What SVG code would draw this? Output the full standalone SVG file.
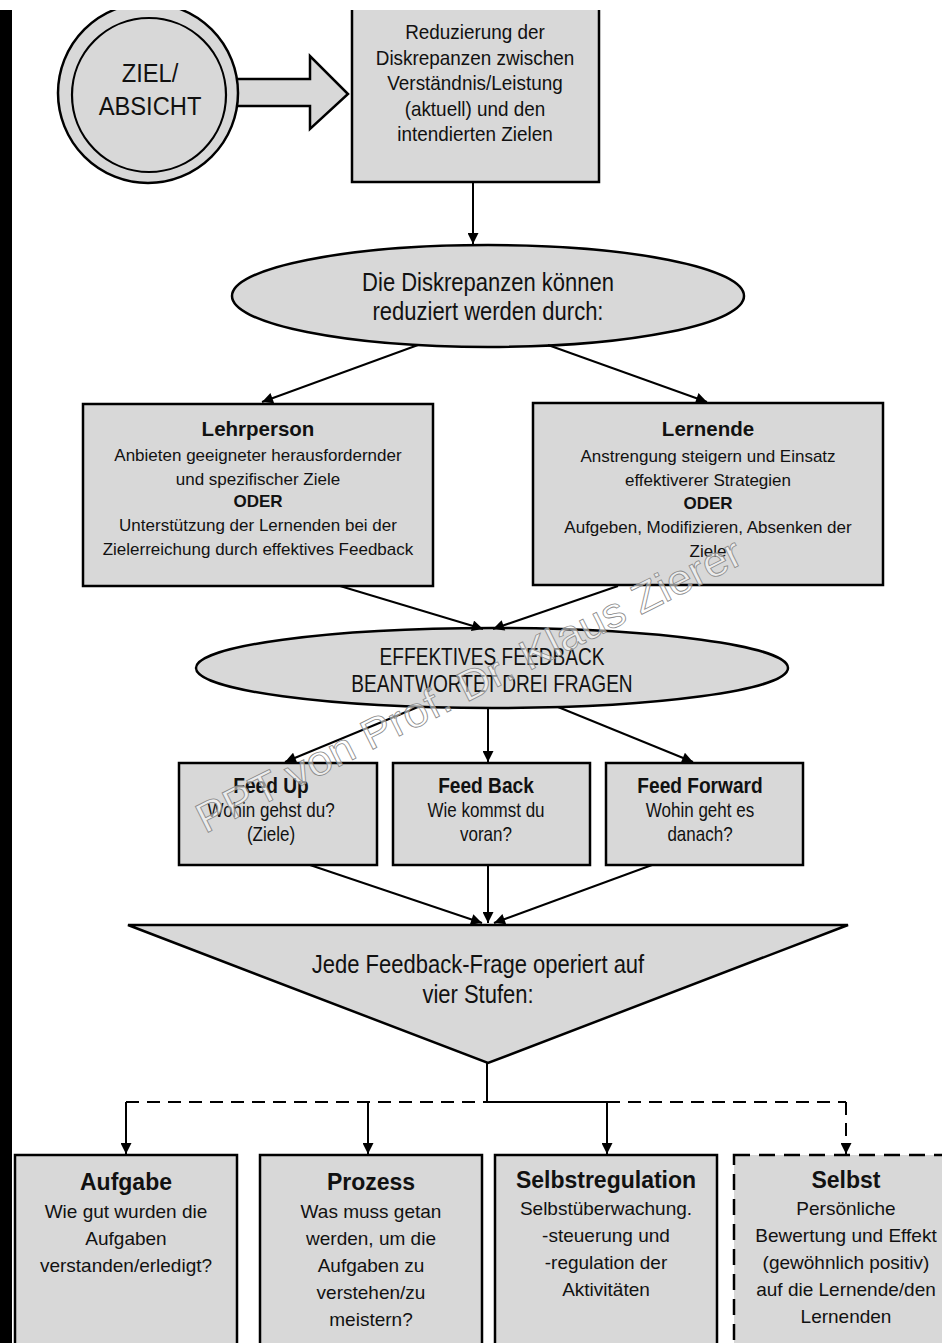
<svg xmlns="http://www.w3.org/2000/svg" width="942" height="1343" viewBox="0 0 942 1343">
<defs>
<style>
.box{fill:#d8d8d8;stroke:#000;stroke-width:2.5}
.t{font-family:"Liberation Sans",Arial,sans-serif;fill:#111;text-anchor:middle}
.b{font-weight:bold}
.ln{stroke:#000;stroke-width:2;fill:none}
.dash{stroke-dasharray:13 8}
</style>
<marker id="ah" viewBox="0 0 10 10" refX="10" refY="5" markerWidth="12" markerHeight="11" markerUnits="userSpaceOnUse" orient="auto">
<path d="M0,0 L10,5 L0,10 z" fill="#000"/>
</marker>
</defs>
<rect width="942" height="1343" fill="#fff"/>
<rect x="0" y="10" width="12" height="1333" fill="#000"/>

<g id="ziel">
<polygon class="box" points="232,79 310,79 310,56 348,94 310,129 310,106 232,106"/>
<circle cx="148" cy="93" r="90" class="box"/>
<circle cx="149" cy="95" r="77" fill="none" stroke="#000" stroke-width="2.2"/>
<text class="t" font-size="25.5" transform="translate(150 0) scale(0.93 1)"><tspan x="0" y="82">ZIEL/</tspan><tspan x="0" y="115">ABSICHT</tspan></text>
</g>

<g id="reduzierung">
<path class="box" d="M352,10 V182 H599 V10"/>
<text class="t" font-size="19.5" transform="translate(475 0) scale(0.97 1)"><tspan x="0" y="39">Reduzierung der</tspan><tspan x="0" y="65">Diskrepanzen zwischen</tspan><tspan x="0" y="90">Verständnis/Leistung</tspan><tspan x="0" y="116">(aktuell) und den</tspan><tspan x="0" y="141">intendierten Zielen</tspan></text>
</g>

<g id="diskrepanzen">
<ellipse class="box" cx="488" cy="296" rx="256" ry="51"/>
<text class="t" font-size="25" transform="translate(488 0) scale(0.88 1)"><tspan x="0" y="291">Die Diskrepanzen können</tspan><tspan x="0" y="320">reduziert werden durch:</tspan></text>
</g>

<g id="lehrperson">
<rect class="box" x="83" y="404" width="350" height="182"/>
<text class="t" font-size="17"><tspan class="b" x="258" y="436" font-size="20.5">Lehrperson</tspan><tspan x="258" y="461">Anbieten geeigneter herausfordernder</tspan><tspan x="258" y="485">und spezifischer Ziele</tspan><tspan class="b" x="258" y="507">ODER</tspan><tspan x="258" y="531">Unterstützung der Lernenden bei der</tspan><tspan x="258" y="555">Zielerreichung durch effektives Feedback</tspan></text>
</g>

<g id="lernende">
<rect class="box" x="533" y="403" width="350" height="182"/>
<text class="t" font-size="17"><tspan class="b" x="708" y="436" font-size="20.5">Lernende</tspan><tspan x="708" y="462">Anstrengung steigern und Einsatz</tspan><tspan x="708" y="486">effektiverer Strategien</tspan><tspan class="b" x="708" y="509">ODER</tspan><tspan x="708" y="533">Aufgeben, Modifizieren, Absenken der</tspan><tspan x="708" y="557">Ziele</tspan></text>
</g>

<g id="effektives-feedback">
<ellipse class="box" cx="492" cy="668" rx="296" ry="40"/>
<text class="t" font-size="23" transform="translate(492 0) scale(0.83 1)"><tspan x="0" y="665">EFFEKTIVES FEEDBACK</tspan><tspan x="0" y="692">BEANTWORTET DREI FRAGEN</tspan></text>
</g>

<g id="feed-up">
<rect class="box" x="179" y="763" width="198" height="102"/>
<text class="t" font-size="20" transform="translate(271 0) scale(0.85 1)"><tspan x="0" y="793" class="b" font-size="22.5">Feed Up</tspan><tspan x="0" y="817">Wohin gehst du?</tspan><tspan x="0" y="841">(Ziele)</tspan></text>
</g>

<g id="feed-back">
<rect class="box" x="393" y="763" width="197" height="102"/>
<text class="t" font-size="20" transform="translate(486 0) scale(0.85 1)"><tspan x="0" y="793" class="b" font-size="22.5">Feed Back</tspan><tspan x="0" y="817">Wie kommst du</tspan><tspan x="0" y="841">voran?</tspan></text>
</g>

<g id="feed-forward">
<rect class="box" x="606" y="763" width="197" height="102"/>
<text class="t" font-size="20" transform="translate(700 0) scale(0.85 1)"><tspan x="0" y="793" class="b" font-size="22.5">Feed Forward</tspan><tspan x="0" y="817">Wohin geht es</tspan><tspan x="0" y="841">danach?</tspan></text>
</g>

<g id="vier-stufen">
<polygon class="box" points="128,925 848,925 488,1063"/>
<text class="t" font-size="25" transform="translate(478 0) scale(0.88 1)"><tspan x="0" y="973">Jede Feedback-Frage operiert auf</tspan><tspan x="0" y="1003">vier Stufen:</tspan></text>
</g>

<g id="aufgabe">
<rect class="box" x="15" y="1155" width="222" height="200"/>
<text class="t" font-size="19"><tspan class="b" x="126" y="1190" font-size="23">Aufgabe</tspan><tspan x="126" y="1218">Wie gut wurden die</tspan><tspan x="126" y="1245">Aufgaben</tspan><tspan x="126" y="1272">verstanden/erledigt?</tspan></text>
</g>

<g id="prozess">
<rect class="box" x="260" y="1155" width="222" height="200"/>
<text class="t" font-size="19"><tspan class="b" x="371" y="1190" font-size="23">Prozess</tspan><tspan x="371" y="1218">Was muss getan</tspan><tspan x="371" y="1245">werden, um die</tspan><tspan x="371" y="1272">Aufgaben zu</tspan><tspan x="371" y="1299">verstehen/zu</tspan><tspan x="371" y="1326">meistern?</tspan></text>
</g>

<g id="selbstregulation">
<rect class="box" x="495" y="1155" width="222" height="200"/>
<text class="t" font-size="19"><tspan class="b" x="606" y="1188" font-size="23">Selbstregulation</tspan><tspan x="606" y="1215">Selbstüberwachung.</tspan><tspan x="606" y="1242">-steuerung und</tspan><tspan x="606" y="1269">-regulation der</tspan><tspan x="606" y="1296">Aktivitäten</tspan></text>
</g>

<g id="selbst">
<rect class="box" x="734" y="1155" width="230" height="200" stroke-dasharray="16 9"/>
<text class="t" font-size="19"><tspan class="b" x="846" y="1188" font-size="23">Selbst</tspan><tspan x="846" y="1215">Persönliche</tspan><tspan x="846" y="1242">Bewertung und Effekt</tspan><tspan x="846" y="1269">(gewöhnlich positiv)</tspan><tspan x="846" y="1296">auf die Lernende/den</tspan><tspan x="846" y="1323">Lernenden</tspan></text>
</g>

<g id="connectors">
<line class="ln" x1="473" y1="182" x2="473" y2="244" marker-end="url(#ah)"/>
<line class="ln" x1="418" y1="345" x2="262" y2="402" marker-end="url(#ah)"/>
<line class="ln" x1="548" y1="345" x2="707" y2="402" marker-end="url(#ah)"/>
<line class="ln" x1="340" y1="586" x2="483" y2="629" marker-end="url(#ah)"/>
<line class="ln" x1="618" y1="586" x2="493" y2="629" marker-end="url(#ah)"/>
<line class="ln" x1="418" y1="707" x2="285" y2="762" marker-end="url(#ah)"/>
<line class="ln" x1="488" y1="708" x2="488" y2="762" marker-end="url(#ah)"/>
<line class="ln" x1="558" y1="707" x2="693" y2="762" marker-end="url(#ah)"/>
<line class="ln" x1="310" y1="865" x2="482" y2="923" marker-end="url(#ah)"/>
<line class="ln" x1="488" y1="865" x2="488" y2="923" marker-end="url(#ah)"/>
<line class="ln" x1="652" y1="865" x2="494" y2="923" marker-end="url(#ah)"/>
<line class="ln" x1="487" y1="1063" x2="487" y2="1102"/>
<line class="ln dash" x1="126" y1="1102" x2="487" y2="1102"/>
<line class="ln" x1="487" y1="1102" x2="607" y2="1102"/>
<line class="ln dash" x1="607" y1="1102" x2="846" y2="1102"/>
<line class="ln" x1="126" y1="1102" x2="126" y2="1154" marker-end="url(#ah)"/>
<line class="ln" x1="368" y1="1102" x2="368" y2="1154" marker-end="url(#ah)"/>
<line class="ln" x1="607" y1="1102" x2="607" y2="1154" marker-end="url(#ah)"/>
<line class="ln dash" x1="846" y1="1102" x2="846" y2="1154" marker-end="url(#ah)"/>
</g>

<text class="t" font-size="42" style="text-anchor:start;fill:#fff;fill-opacity:.55;stroke:#8a8a8a;stroke-width:.8" transform="translate(205 834) rotate(-26.7)" textLength="605" lengthAdjust="spacingAndGlyphs">PPT von Prof. Dr. Klaus Zierer</text>
<rect x="0" y="0" width="942" height="10" fill="#fff"/>
</svg>
